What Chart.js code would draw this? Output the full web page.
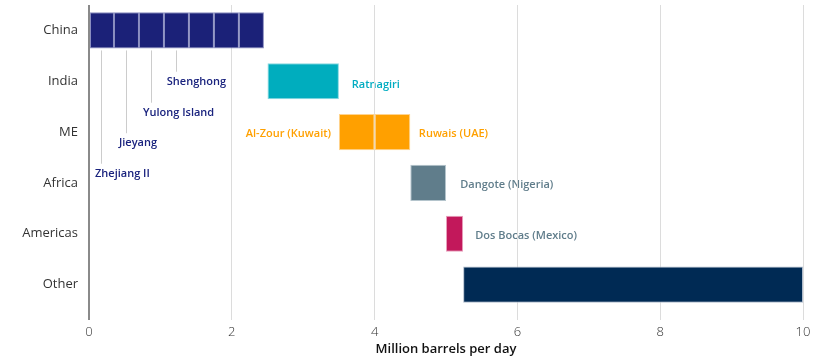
<!DOCTYPE html>
<html><head><meta charset="utf-8">
<script src="https://cdn.jsdelivr.net/npm/chart.js@4.4.1/dist/chart.umd.min.js"></script>
<style>html,body{margin:0;padding:0;background:#fff}#wrap{width:830px;height:360px;position:relative}</style>
</head><body><div id="wrap"><canvas id="c" width="830" height="360"></canvas></div>
<script>
// ---- data ----
const categories = ['China', 'India', 'ME', 'Africa', 'Americas', 'Other'];
const xTicks = [0, 2, 4, 6, 8, 10];
const segCategory = ['China','China','China','China','China','China','China','India','ME','ME','Africa','Americas','Other'];
const segStart = [0, 0.35, 0.70, 1.05, 1.40, 1.75, 2.10, 2.50, 3.50, 4.00, 4.50, 5.00, 5.24];
const segEnd   = [0.35, 0.70, 1.05, 1.40, 1.75, 2.10, 2.45, 3.50, 4.00, 4.50, 5.00, 5.24, 10.0];
const projectNames = ['Shenghong', 'Yulong Island', 'Jieyang', 'Zhejiang II', 'Ratnagiri',
  'Al-Zour (Kuwait)', 'Ruwais (UAE)', 'Dangote (Nigeria)', 'Dos Bocas (Mexico)'];
const projectCategory = ['China','China','China','China','India','ME','ME','Africa','Americas'];
const projectSegment = [3, 2, 1, 0, 7, 8, 9, 10, 11];
const xTitle = 'Million barrels per day';

// ---- style / layout ----
const catColor = {China:'#1b2178', India:'#00adbe', ME:'#ffa000', Africa:'#607d8b', Americas:'#c2185b', Other:'#002a54'};
const catBorder = {China:'#8a8ec0', India:'#88d8e0', ME:'#ffd490', Africa:'#b4c4cc', Americas:'#e8a0bc', Other:'#b0bccc'};
const labelColor = {China:'#1a237e', India:'#00acc1', ME:'#ffa000', Africa:'#607d8b', Americas:'#607d8b'};
// label x (axis units), row position (category units), alignment, whether a leader line is drawn
const labelX   = [1.09, 0.756, 0.42, 0.084, 3.68, 3.39, 4.62, 5.20, 5.41];
const labelRow = [0.97, 1.58, 2.18, 2.78, 1.04, 2.0, 2.0, 3.0, 4.0];
const labelAlign = ['left','left','left','left','left','right','left','left','left'];
const hasLeader = [true, true, true, true, false, false, false, false, false];
const LABEL_DY = 2;
const FONT = "'Open Sans', 'Liberation Sans', sans-serif";

const datasets = segCategory.map((cat, i) => {
  const data = categories.map(c => c === cat ? [segStart[i], segEnd[i]] : null);
  return {
    data,
    backgroundColor: catColor[cat],
    borderColor: catBorder[cat],
    borderWidth: 1,
    borderSkipped: false,
    grouped: false,
    barPercentage: 0.71,
    categoryPercentage: 1
  };
});

const labelPlugin = {
  id: 'projLabels',
  beforeDraw(chart) {
    const ctx = chart.ctx, xs = chart.scales.x, ys = chart.scales.y;
    ctx.save();
    ctx.font = "600 11px " + FONT;
    ctx.textBaseline = 'middle';
    const barHalf = (ys.getPixelForValue(1) - ys.getPixelForValue(0)) * 0.71 / 2;
    projectNames.forEach((name, i) => {
      const y = ys.getPixelForValue(labelRow[i]) + LABEL_DY;
      const x = xs.getPixelForValue(labelX[i]);
      if (hasLeader[i]) {
        const s = projectSegment[i];
        const lx = Math.round(xs.getPixelForValue((segStart[s] + segEnd[s]) / 2)) + 0.5;
        const top = ys.getPixelForValue(categories.indexOf(projectCategory[i])) + barHalf + 2;
        ctx.strokeStyle = '#cccccc';
        ctx.lineWidth = 1;
        ctx.beginPath();
        ctx.moveTo(lx, top);
        ctx.lineTo(lx, y - 10);
        ctx.stroke();
      }
      ctx.fillStyle = labelColor[projectCategory[i]];
      ctx.textAlign = labelAlign[i];
      ctx.fillText(name, x, y);
    });
    ctx.restore();
  }
};

new Chart(document.getElementById('c'), {
  type: 'bar',
  data: { labels: categories, datasets },
  plugins: [labelPlugin],
  options: {
    indexAxis: 'y',
    responsive: false,
    animation: false,
    layout: { padding: { top: 5, right: 27, left: 0, bottom: 0 } },
    plugins: { legend: { display: false }, tooltip: { enabled: false } },
    scales: {
      x: {
        type: 'linear',
        min: 0, max: 10,
        afterBuildTicks: s => { s.ticks = xTicks.map(v => ({ value: v })); },
        afterFit: s => { s.height = 50; s.paddingLeft = 0; s.paddingRight = 0; },
        grid: {
          color: c => (c.tick && c.tick.value === 0) ? '#8a8a8a' : '#dcdcdc',
          lineWidth: c => (c.tick && c.tick.value === 0) ? 2 : 1,
          tickLength: 10,
          drawTicks: true
        },
        border: { display: false },
        ticks: { color: '#333', font: { family: FONT, size: 13, weight: '300' }, padding: 4 },
        title: { display: true, text: xTitle, color: '#111', font: { family: FONT, size: 13, weight: '600' }, padding: { top: 0, bottom: 3 } }
      },
      y: {
        type: 'category',
        offset: true,
        afterFit: s => { s.width = 89; s.paddingTop = 0; s.paddingBottom = 0; },
        grid: { display: false, drawTicks: false },
        border: { display: false },
        ticks: { color: '#333', font: { family: FONT, size: 13 }, padding: 11 }
      }
    }
  }
});
</script>
</body></html>
